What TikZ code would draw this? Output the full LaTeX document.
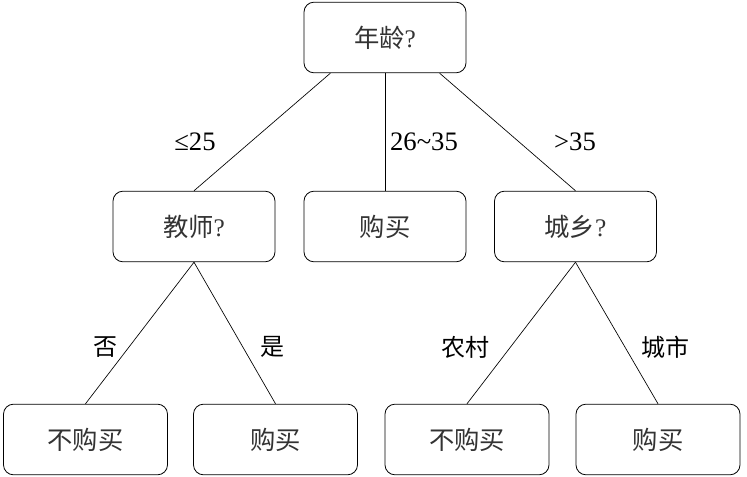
\documentclass[tikz,border=0pt]{standalone}
\usepackage{fontspec}
\setmainfont{Liberation Serif}
\newfontfamily\cjk{Noto Sans CJK SC}

\begin{document}
\begin{tikzpicture}[x=0.75pt,y=-0.75pt]

% ---------------------------------------------------------------- styles
\tikzset{
  box/.style  = {draw, rounded corners=7.5pt, line width=0.6pt,
                 minimum width=121.5pt, minimum height=53pt,
                 font=\fontsize{19}{19}\selectfont\cjk, text=black!80},
  leaf/.style = {box, minimum width=123pt},
  edge/.style = {draw, line width=0.5pt},
  lbl/.style  = {font=\fontsize{20}{20}\selectfont},
  clbl/.style = {font=\fontsize{18}{18}\selectfont\cjk},
}

\useasboundingbox (0,0) rectangle (747,477);

% ================================================================ root
\node[box] (age) at (385,37.5) {年龄{\rmfamily ?}};

% ============================================================ level 2
\node[box] (teacher) at (194,226.5)   {教师{\rmfamily ?}};
\node[box] (buy)     at (385,226.5)   {购买};
\node[box] (area)    at (575.5,226.5) {城乡{\rmfamily ?}};

% ============================================================ leaves
\node[leaf] (nobuyA) at (85.5,439.5) {不购买};
\node[leaf] (buyA)   at (275.5,439.5) {购买};
\node[leaf] (nobuyB) at (467,439.5)  {不购买};
\node[leaf] (buyB)   at (658,439.5)  {购买};

% ------------------------------------------------------------ branches
\draw[edge] ([xshift=-41pt]age.south) -- (teacher.north);
\draw[edge] (age.south) -- (buy.north);
\draw[edge] ([xshift=41pt]age.south) -- (area.north);
\draw[edge] (teacher.south) -- (nobuyA.north);
\draw[edge] (teacher.south) -- (buyA.north);
\draw[edge] (area.south) -- (nobuyB.north);
\draw[edge] (area.south) -- (buyB.north);

% ------------------------------------------------------------ labels
\node[lbl]  (l1) at (195,142) {≤25};
\node[lbl]  (l2) at (424,142) {26\textasciitilde35};
\node[lbl]  (l3) at (575,142) {>35};
\node[clbl] (l4) at (105,347) {否};
\node[clbl] (l5) at (272,347) {是};
\node[clbl] (l6) at (465,347) {农村};
\node[clbl] (l7) at (665,347) {城市};

\end{tikzpicture}
\end{document}
